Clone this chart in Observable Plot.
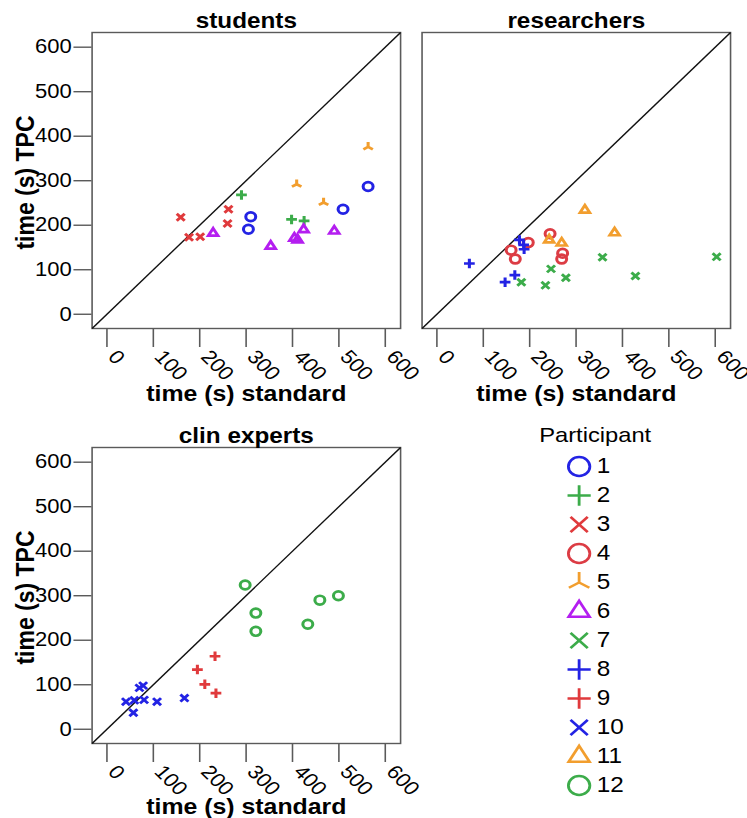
<!DOCTYPE html>
<html>
<head>
<meta charset="utf-8">
<script src="https://cdn.jsdelivr.net/npm/d3@7"></script>
<script src="https://cdn.jsdelivr.net/npm/@observablehq/plot@0.6"></script>
<style>
html, body { margin: 0; padding: 0; background: #fff; }
#wrap { position: relative; width: 661px; height: 818px; transform: scaleX(1.13); transform-origin: 0 0; overflow: visible; }
#wrap > div { position: absolute; }
</style>
</head>
<body>
<div id="wrap"></div>
<script>
// ---------- data ----------
const participants = ["1","2","3","4","5","6","7","8","9","10","11","12"];
const participantColors = ["#2323e4","#3cac4a","#e03a3c","#dc3c44","#f29e2e","#b41ef0","#3cac4a","#2323e4","#e03a3c","#2323e4","#f29e2e","#3cac4a"];
const participantShapes = ["circle","plus","times","circle","wye","triangle","times","plus","plus","times","triangle","circle"];

const axisTicks = [0, 100, 200, 300, 400, 500, 600];
const axisDomain = [-32, 633];

const studentsParticipant = ["1","1","1","1","2","2","2","3","3","3","3","3","5","5","5","6","6","6","6","6","6"];
const studentsStandard    = [310,305,509,563, 290,398,425, 159,177,201,262,260, 409,467,563, 229,353,404,411,424,490];
const studentsTPC         = [219,191,236,287, 268,213,210, 218,173,174,236,204, 292,251,376, 182,153,171,167,190,187];

const researchersParticipant = ["4","4","4","4","4","4","8","8","8","8","8","8","7","7","7","7","7","7","7","11","11","11","11"];
const researchersStandard    = [160,169,197,244,271,269, 70,147,168,178,187,188, 182,234,246,278,357,428,603, 319,383,242,269];
const researchersTPC         = [144,124,161,181,137,124, 114,72,88,167,156,146, 72,65,102,82,128,86,129, 234,183,167,160];

const expertsParticipant = ["9","9","9","9","10","10","10","10","10","10","10","10","12","12","12","12","12","12"];
const expertsStandard    = [233,195,211,235, 41,57,59,70,78,80,108,167, 298,321,321,433,459,499];
const expertsTPC         = [164,134,101,81, 62,37,65,93,98,66,62,70, 324,261,220,236,290,300];

const titles = {students: "students", researchers: "researchers", experts: "clin experts"};
const xLabel = "time (s) standard";
const yLabel = "time (s) TPC";
const legendTitle = "Participant";

// ---------- symbol shapes (stroke-drawn) ----------
const shapes = {
  circle: {draw(c, size) { const r = Math.sqrt(size / Math.PI); c.moveTo(r, 0); c.arc(0, 0, r, 0, 2 * Math.PI); }},
  plus: {draw(c, size) { const r = Math.sqrt(size / Math.PI) * 1.08; c.moveTo(-r, 0); c.lineTo(r, 0); c.moveTo(0, -r); c.lineTo(0, r); }},
  times: {draw(c, size) { const r = Math.sqrt(size / Math.PI) * 0.8; c.moveTo(-r, -r); c.lineTo(r, r); c.moveTo(-r, r); c.lineTo(r, -r); }},
  triangle: {draw(c, size) { const r = Math.sqrt(size / Math.PI) * 1.12; const u = r * Math.sqrt(3) / 2; c.moveTo(0, -r); c.lineTo(u, r / 2); c.lineTo(-u, r / 2); c.closePath(); }},
  wye: {draw(c, size) { const r = Math.sqrt(size / Math.PI) * 1.1; const u = r * Math.sqrt(3) / 2; c.moveTo(0, 0); c.lineTo(0, -r); c.moveTo(0, 0); c.lineTo(-u, r / 2); c.moveTo(0, 0); c.lineTo(u, r / 2); }}
};

const colorScale = {domain: participants, range: participantColors};
const symbolScale = {domain: participants, range: participantShapes.map(s => shapes[s])};
const FONT = "'Liberation Sans', Arial, Helvetica, sans-serif";

function rows(ps, xs, ys) { return ps.map((p, i) => ({p, standard: xs[i], tpc: ys[i]})); }

function panel(title, data, showY, height, marginBottom, labelDy) {
  return Plot.plot({
    width: 366, height, marginLeft: 81, marginRight: 12, marginTop: 32, marginBottom,
    x: {domain: axisDomain, axis: null},
    y: {domain: axisDomain, axis: null},
    color: colorScale,
    symbol: symbolScale,
    style: {fontFamily: FONT, fontSize: "19.5px", background: "transparent", overflow: "visible", color: "#000"},
    marks: [
      Plot.frame({stroke: "#5a5a5a", strokeWidth: 1.4}),
      Plot.link([axisDomain], {x1: d => d[0], y1: d => d[0], x2: d => d[1], y2: d => d[1], stroke: "#111", strokeWidth: 1.3}),
      Plot.axisX({ticks: axisTicks, tickSize: 19, tickPadding: 10, tickRotate: 48, textAnchor: "start", lineAnchor: "bottom", stroke: "#5a5a5a", strokeWidth: 1.4, fontSize: 19.5, label: null}),
      showY ? Plot.axisY({ticks: axisTicks, tickSize: 16, tickPadding: 2, stroke: "#5a5a5a", strokeWidth: 1.4, fontSize: 19.5, label: null}) : null,
      Plot.dot(data, {x: "standard", y: "tpc", stroke: "p", symbol: "p", fill: "none", r: 4.4, strokeWidth: 2.7}),
      Plot.text([title], {text: d => d, frameAnchor: "top", dy: -5, textAnchor: "middle", lineAnchor: "bottom", fontWeight: "bold", fontSize: 21.5}),
      Plot.text([xLabel], {text: d => d, frameAnchor: "bottom", dy: labelDy, textAnchor: "middle", lineAnchor: "bottom", fontWeight: "bold", fontSize: 22}),
      showY ? Plot.text([yLabel], {text: d => d, frameAnchor: "left", dx: -59, dy: 2, rotate: -90, textAnchor: "middle", lineAnchor: "middle", fontWeight: "bold", fontSize: 23}) : null
    ]
  });
}

function legend() {
  return Plot.plot({
    width: 191, height: 385, marginLeft: 42, marginRight: 10, marginTop: 42, marginBottom: 17,
    y: {type: "point", domain: participants, padding: 0, axis: null},
    color: colorScale,
    symbol: symbolScale,
    style: {fontFamily: FONT, fontSize: "21px", background: "transparent", overflow: "visible", color: "#000"},
    marks: [
      Plot.dot(participants, {y: d => d, frameAnchor: "left", stroke: d => d, symbol: d => d, fill: "none", r: 9.5, strokeWidth: 2.5}),
      Plot.text(participants, {y: d => d, text: d => d, frameAnchor: "left", dx: 15.6, textAnchor: "start", fontSize: 21.5}),
      Plot.text([legendTitle], {text: d => d, frameAnchor: "top-left", dx: 14.2, dy: -27, textAnchor: "middle", lineAnchor: "middle", fontSize: 21})
    ]
  });
}

function place(node, left, top) {
  const d = document.createElement("div");
  d.style.left = left + "px"; d.style.top = top + "px";
  d.appendChild(node);
  document.getElementById("wrap").appendChild(d);
}

place(panel(titles.students, rows(studentsParticipant, studentsStandard, studentsTPC), true, 410, 82, 72), 0, 0);
place(panel(titles.researchers, rows(researchersParticipant, researchersStandard, researchersTPC), false, 410, 82, 72), 292, 0);
place(panel(titles.experts, rows(expertsParticipant, expertsStandard, expertsTPC), true, 403, 75, 70), 0, 415);
place(legend(), 470, 420);
</script>
</body>
</html>
